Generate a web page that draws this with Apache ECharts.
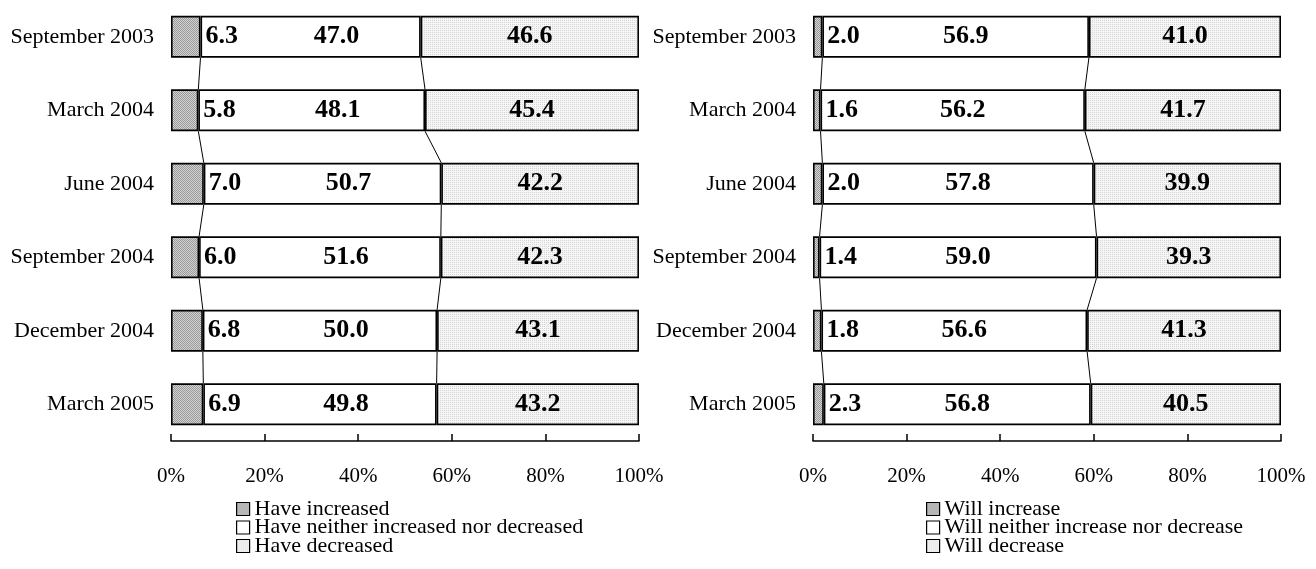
<!DOCTYPE html>
<html>
<head>
<meta charset="utf-8">
<script src="https://cdn.jsdelivr.net/npm/echarts@6/dist/echarts.min.js"></script>
<style>
  html, body { margin: 0; padding: 0; background: #fff; }
  #main { width: 1316px; height: 569px; }
</style>
</head>
<body>
<div id="main"></div>
<script>
const categories = ['September 2003', 'March 2004', 'June 2004', 'September 2004', 'December 2004', 'March 2005']
const tickLabels = ['0%', '20%', '40%', '60%', '80%', '100%']

// left panel: past
const pastIncreased = [6.3, 5.8, 7.0, 6.0, 6.8, 6.9]
const pastNeither = [47.0, 48.1, 50.7, 51.6, 50.0, 49.8]
const pastDecreased = [46.6, 45.4, 42.2, 42.3, 43.1, 43.2]
const pastNames = ['Have increased', 'Have neither increased nor decreased', 'Have decreased']

// right panel: future
const futureIncrease = [2.0, 1.6, 2.0, 1.4, 1.8, 2.3]
const futureNeither = [56.9, 56.2, 57.8, 59.0, 56.6, 56.8]
const futureDecrease = [41.0, 41.7, 39.9, 39.3, 41.3, 40.5]
const futureNames = ['Will increase', 'Will neither increase nor decrease', 'Will decrease']

const font = "'Liberation Serif', 'Times New Roman', serif"
const barFrac = 0.57

// small texture tiles like the excel fills
let makeTile = function(on, off, both) {
    let c = document.createElement('canvas')
    c.width = 2
    c.height = 2
    let ctx = c.getContext('2d')
    ctx.fillStyle = off
    ctx.fillRect(0, 0, 2, 2)
    ctx.fillStyle = on
    ctx.fillRect(0, 0, 1, 1)
    if (both) {
        ctx.fillRect(1, 1, 1, 1)
    }
    return c
}
const darkFill = { image: makeTile('#9a9a9a', '#d2d2d2', true), repeat: 'repeat' }
const lightFill = { image: makeTile('#d4d4d4', '#f6f6f6', false), repeat: 'repeat' }

// 100% stacked: scale each row to its total
let share = function(parts, k) {
    return parts[k].map((v, i) => {
        let total = parts[0][i] + parts[1][i] + parts[2][i]
        return v / total * 100
    })
}

let panel = function(idx, parts, names, midOffset) {
    let a = share(parts, 0)
    let b = share(parts, 1)
    let fills = [darkFill, '#ffffff', lightFill]
    let labels = [
        { show: true, position: 'right', distance: 5 },
        { show: true, position: 'inside', offset: [midOffset, 0] },
        { show: true, position: 'inside' },
    ]
    let out = []
    for (let k = 0; k < 3; k++) {
        let raw = parts[k]
        out.push({
            name: names[k],
            type: 'bar',
            stack: 'p' + idx,
            xAxisIndex: idx,
            yAxisIndex: idx,
            barWidth: (barFrac * 100) + '%',
            data: share(parts, k),
            itemStyle: { color: fills[k], borderColor: '#000', borderWidth: 1.6 },
            label: Object.assign({
                color: '#000',
                fontFamily: font,
                fontWeight: 'bold',
                fontSize: 26,
                formatter: p => raw[p.dataIndex].toFixed(1),
            }, labels[k]),
            emphasis: { disabled: true },
        })
    }
    // series lines between consecutive bars
    let links = []
    for (let i = 0; i < categories.length - 1; i++) {
        links.push([a[i], i, a[i + 1]])
        links.push([a[i] + b[i], i, a[i + 1] + b[i + 1]])
    }
    out.push({
        type: 'custom',
        xAxisIndex: idx,
        yAxisIndex: idx,
        silent: true,
        encode: { x: [0, 2], y: 1 },
        data: links,
        renderItem: function(params, api) {
            let p1 = api.coord([api.value(0), api.value(1)])
            let p2 = api.coord([api.value(2), api.value(1) + 1])
            let h = api.size([0, 1])[1] * barFrac / 2
            return {
                type: 'line',
                shape: { x1: p1[0], y1: p1[1] + h, x2: p2[0], y2: p2[1] - h },
                style: { stroke: '#000', lineWidth: 1 },
            }
        },
    })
    return out
}

let xAxisOf = function(idx) {
    return {
        type: 'value',
        gridIndex: idx,
        min: 0,
        max: 100,
        interval: 20,
        axisLine: { show: true, lineStyle: { color: '#000', width: 1.5 } },
        axisTick: { show: true, inside: true, length: 7, lineStyle: { color: '#000', width: 1.5 } },
        splitLine: { show: false },
        axisLabel: {
            color: '#000',
            fontFamily: font,
            fontSize: 21,
            margin: 25,
            formatter: v => tickLabels[Math.round(v / 20)],
        },
    }
}

let yAxisOf = function(idx) {
    return {
        type: 'category',
        gridIndex: idx,
        inverse: true,
        data: categories,
        axisLine: { show: false },
        axisTick: { show: false },
        axisLabel: { color: '#000', fontFamily: font, fontSize: 22, margin: 17 },
    }
}

// one legend per row so the three lines stack tightly
const legendRows = [507, 525.5, 544]
let legendsOf = function(left, names) {
    return names.map((n, k) => ({
        left: left,
        top: legendRows[k] - 9,
        data: [n],
        icon: 'rect',
        itemWidth: 13,
        itemHeight: 13,
        itemGap: 0,
        padding: 0,
        itemStyle: { borderColor: '#000', borderWidth: 1.2 },
        selectedMode: false,
        textStyle: { color: '#000', fontFamily: font, fontSize: 22, lineHeight: 18, padding: [0, 0, 0, 0] },
    }))
}

let myChart = echarts.init(document.getElementById('main'))
let option = {
    animation: false,
    backgroundColor: '#fff',
    grid: [
        { left: 171, right: 677, top: -4, bottom: 128 },
        { left: 813, right: 35, top: -4, bottom: 128 },
    ],
    xAxis: [xAxisOf(0), xAxisOf(1)],
    yAxis: [yAxisOf(0), yAxisOf(1)],
    legend: legendsOf(236, pastNames).concat(legendsOf(926, futureNames)),
    series: panel(0, [pastIncreased, pastNeither, pastDecreased], pastNames, 26)
        .concat(panel(1, [futureIncrease, futureNeither, futureDecrease], futureNames, 10)),
}
myChart.setOption(option)
</script>
</body>
</html>
